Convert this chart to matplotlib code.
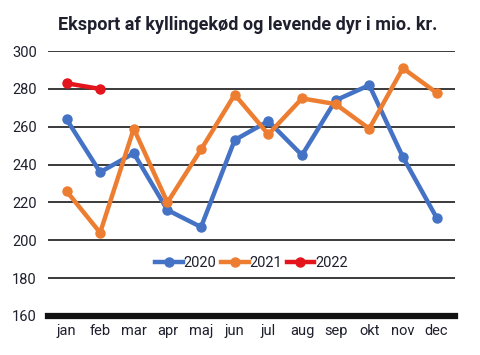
import matplotlib
matplotlib.use('Agg')
import matplotlib.pyplot as plt

months = ['jan', 'feb', 'mar', 'apr', 'maj', 'jun', 'jul', 'aug', 'sep', 'okt', 'nov', 'dec']
v2020 = [264, 236, 246, 216, 207, 253, 263, 245, 274, 282, 244, 212]
v2021 = [226, 204, 259, 220, 248, 277, 256, 275, 272, 259, 291, 278]
v2022 = [283, 280]

plt.rcParams['font.family'] = ['Roboto', 'DejaVu Sans']
text_col = '#1f1f2e'

fig = plt.figure(figsize=(4.8, 3.55), dpi=100)
ax = fig.add_axes([0.10, 0.110, 0.848, 0.746])

x = list(range(len(months)))
ax.plot(x, v2020, color='#4472C4', lw=3.2, marker='o', ms=6.5, label='2020', zorder=3)
ax.plot(x, v2021, color='#ED7D31', lw=3.2, marker='o', ms=6.5, label='2021', zorder=3)
ax.plot(x[:len(v2022)], v2022, color='#E3141C', lw=3.2, marker='o', ms=6.5, label='2022', zorder=3)

ax.set_ylim(160, 300)
ax.set_yticks(range(160, 301, 20))
ax.set_xlim(-0.55, 11.55)
ax.set_xticks(x)
ax.set_xticklabels(months)
ax.grid(axis='y', color='#2b2b2b', lw=1.3)
ax.set_axisbelow(True)
for s in ['top', 'right', 'left']:
    ax.spines[s].set_visible(False)
ax.spines['bottom'].set_linewidth(4.5)
ax.spines['bottom'].set_color('#111111')
ax.tick_params(length=0, labelsize=10.5, colors=text_col, pad=6)
ax.tick_params(axis='y', pad=8)

ax.legend(loc='center', bbox_to_anchor=(0.5, 0.2), ncol=3, frameon=False,
          fontsize=10.5, handlelength=1.9, handletextpad=0.05, columnspacing=0.3,
          labelcolor=text_col)

fig.suptitle('Eksport af kyllingekød og levende dyr i mio. kr.', x=0.515, y=0.955,
             fontsize=13, fontweight='bold', color=text_col)

fig.savefig('out.png', dpi=100)
